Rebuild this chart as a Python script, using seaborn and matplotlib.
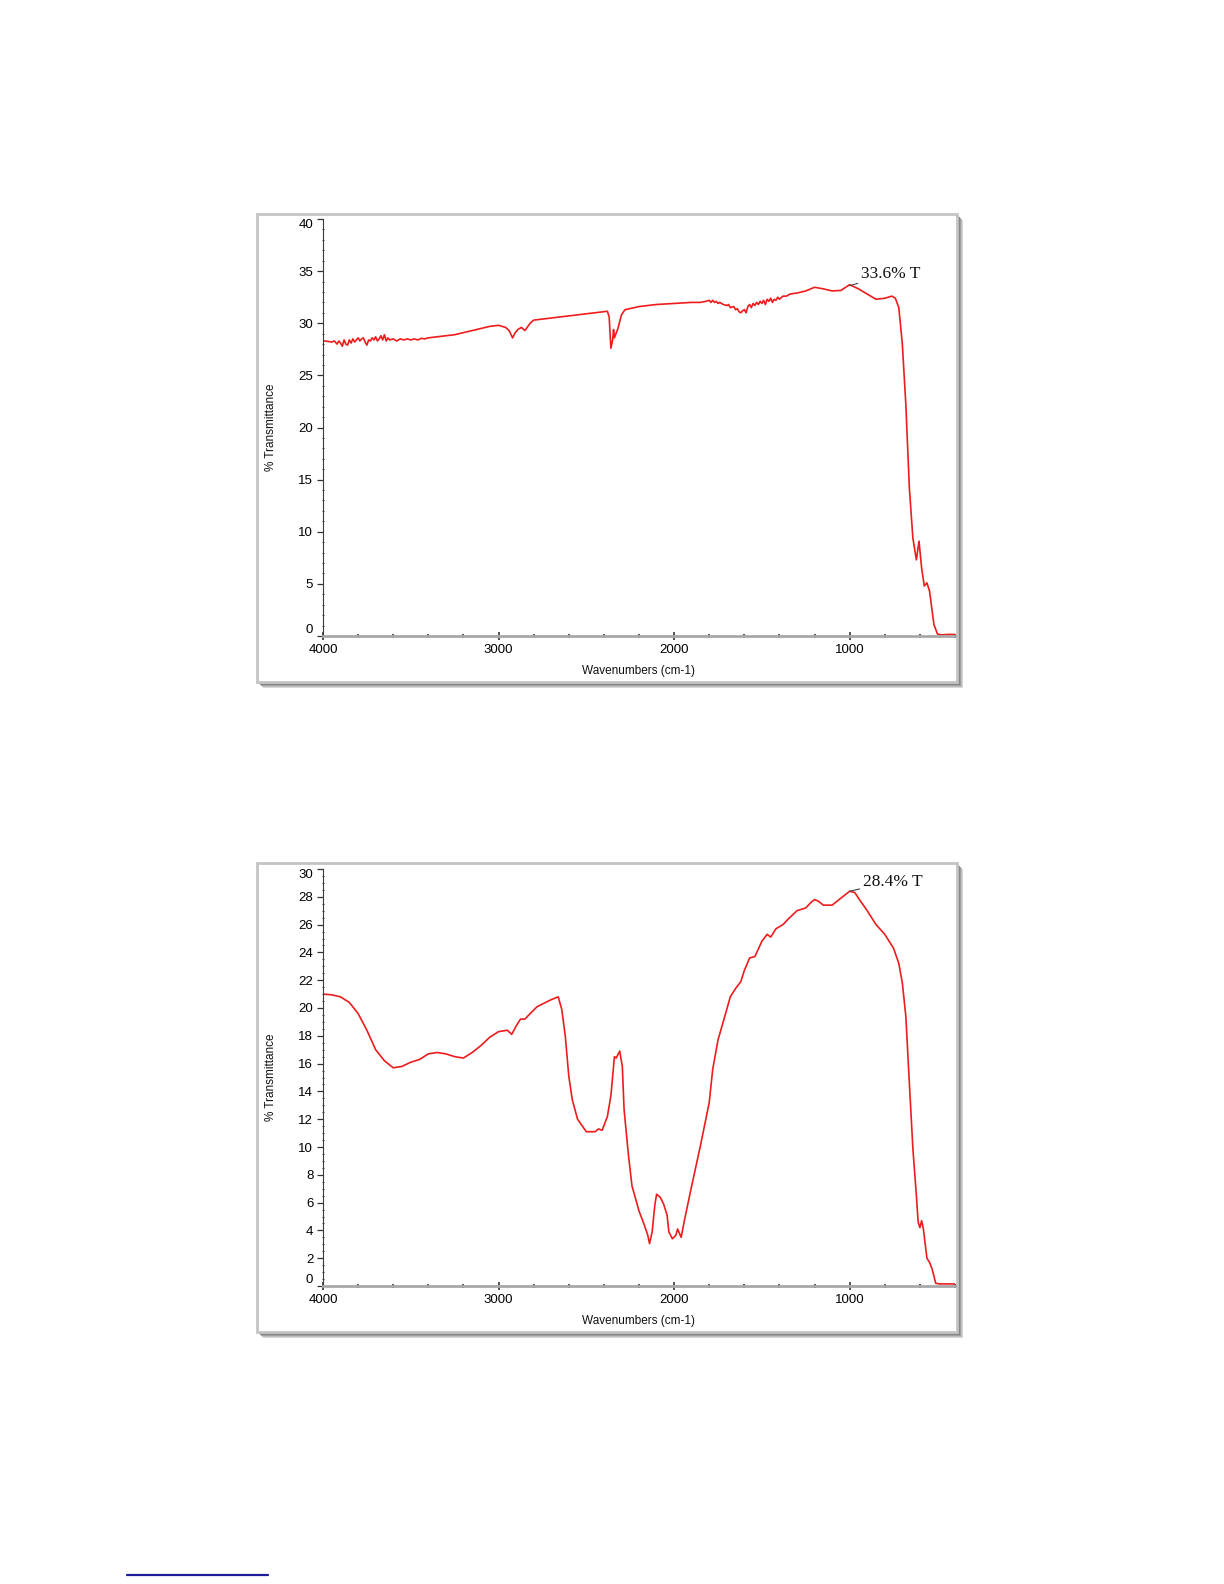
import numpy as np
import pandas as pd
import matplotlib
matplotlib.use("Agg")
import matplotlib.pyplot as plt
from matplotlib.patches import Rectangle
from matplotlib.lines import Line2D
from matplotlib.ticker import MultipleLocator
import seaborn as sns

# ---------------- data ----------------
wn_top = [4000, 3990, 3970, 3950, 3935, 3920, 3910, 3900, 3890, 3880, 3870, 3860, 3850, 3840,
          3830, 3820, 3810, 3800, 3790, 3780, 3770, 3760, 3750, 3740, 3730, 3720, 3710, 3700,
          3690, 3680, 3670, 3660, 3650, 3640, 3630, 3620, 3600, 3580, 3560, 3540, 3520, 3500,
          3480, 3460, 3440, 3420, 3400, 3350, 3300, 3250,
          3200, 3150, 3100, 3050, 3000, 2960, 2940, 2920, 2905, 2890, 2870, 2850, 2820, 2800,
          2700, 2600, 2500, 2400, 2380, 2370, 2360, 2350, 2345, 2340, 2320, 2300, 2280, 2200,
          2100, 2000, 1900, 1850, 1820, 1800, 1790, 1780, 1770, 1760, 1750, 1740, 1720, 1700,
          1690, 1680, 1660, 1650, 1640, 1630, 1620, 1610, 1600, 1590, 1580, 1570, 1560, 1550,
          1540, 1530, 1520, 1510, 1500, 1490, 1480, 1470, 1460, 1450, 1440, 1430, 1420, 1410,
          1400, 1380, 1360, 1340, 1300, 1250, 1200, 1150, 1100, 1050, 1000,
          950, 900, 850, 800, 760, 740, 720, 700, 680, 660, 640, 620, 605, 590, 575, 560,
          545, 520, 500, 480, 440, 400]
t_top = [28.3, 28.3, 28.25, 28.2, 28.3, 28.0, 28.3, 28.1, 27.8, 28.4, 28.0, 27.9, 28.4, 28.1,
         28.5, 28.2, 28.4, 28.6, 28.3, 28.5, 28.6, 28.2, 27.9, 28.4, 28.3, 28.6, 28.4, 28.7,
         28.3, 28.5, 28.8, 28.4, 28.9, 28.3, 28.6, 28.4, 28.5, 28.3, 28.5, 28.4, 28.5, 28.4,
         28.5, 28.4, 28.55, 28.5, 28.6, 28.7, 28.8, 28.9,
         29.1, 29.3, 29.5, 29.7, 29.8, 29.6, 29.3, 28.6, 29.1, 29.4, 29.6, 29.3, 30.0, 30.3,
         30.5, 30.7, 30.9, 31.1, 31.15, 30.6, 27.6, 28.4, 29.4, 28.6, 29.5, 30.8, 31.3, 31.6,
         31.8, 31.9, 32.0, 32.0, 32.1, 32.2, 32.0, 32.2, 32.0, 32.1, 31.9, 32.0, 31.8, 31.7,
         31.8, 31.5, 31.6, 31.3, 31.4, 31.1, 31.0, 31.2, 31.3, 31.0, 31.6, 31.8, 31.5, 31.9,
         31.7, 32.0, 31.8, 32.1, 31.9, 32.2, 31.8, 32.3, 32.1, 32.4, 32.0, 32.3, 32.2, 32.5,
         32.3, 32.6, 32.6, 32.8, 32.9, 33.1, 33.45, 33.3, 33.1, 33.15, 33.7,
         33.3, 32.8, 32.3, 32.4, 32.6, 32.4, 31.5, 28.0, 22.2, 14.2, 9.4, 7.3, 9.1, 6.5, 4.8, 5.1,
         4.3, 1.1, 0.2, 0.1, 0.15, 0.15]

wn_bot = [4000, 3950, 3900, 3850, 3800, 3750, 3700, 3650, 3600, 3550, 3500, 3450, 3400, 3350,
          3300, 3250, 3200, 3150, 3100, 3050, 3000, 2950, 2925, 2900, 2875, 2850, 2820, 2780,
          2700, 2660, 2640, 2620, 2600, 2580, 2550, 2500, 2450, 2430, 2410, 2380, 2360, 2350,
          2340, 2330, 2310, 2295, 2285, 2260, 2240, 2200, 2170, 2150, 2140, 2125, 2110, 2100,
          2080, 2060, 2040, 2030, 2010, 1990, 1980, 1960, 1940, 1900, 1850, 1800, 1780, 1750,
          1700, 1680, 1650, 1620, 1600, 1570, 1540, 1500, 1470, 1450, 1420, 1380, 1350, 1300,
          1250, 1220, 1200, 1180, 1150, 1100, 1050, 1000, 970, 950, 900, 850, 800, 750, 720,
          700, 680, 660, 640, 620, 610, 600, 590, 580, 560, 545, 530, 510, 490, 400]
t_bot = [21.0, 20.95, 20.8, 20.4, 19.6, 18.4, 17.0, 16.2, 15.7, 15.8, 16.1, 16.3, 16.7, 16.8,
         16.7, 16.5, 16.4, 16.8, 17.3, 17.9, 18.3, 18.4, 18.1, 18.7, 19.2, 19.2, 19.6, 20.1,
         20.6, 20.8, 19.9, 18.0, 15.1, 13.4, 12.0, 11.1, 11.1, 11.3, 11.2, 12.2, 13.7, 15.1,
         16.5, 16.4, 16.9, 15.8, 12.7, 9.4, 7.2, 5.4, 4.4, 3.65, 3.05, 3.9, 5.8, 6.6,
         6.4, 5.9, 5.1, 3.9, 3.4, 3.65, 4.1, 3.5, 4.8, 7.2, 10.1, 13.2, 15.6, 17.7,
         19.9, 20.8, 21.4, 21.9, 22.7, 23.6, 23.7, 24.8, 25.3, 25.1, 25.7, 26.0, 26.4, 27.0,
         27.2, 27.6, 27.8, 27.7, 27.4, 27.4, 27.9, 28.4, 28.3, 27.9, 27.0, 26.0, 25.3, 24.3, 23.2,
         21.8, 19.4, 14.6, 9.9, 6.5, 4.6, 4.2, 4.7, 4.1, 2.0, 1.7, 1.2, 0.2, 0.15, 0.15]

x_label = "Wavenumbers (cm-1)"
y_label = "% Transmittance"
annot_top = "33.6% T"
annot_bot = "28.4% T"

# ---------------- figure ----------------
sns.set_theme(style="white")
plt.rcParams['font.family'] = ['Liberation Sans', 'DejaVu Sans']

W, H = 1224, 1584
fig = plt.figure(figsize=(W / 100, H / 100), dpi=100)


def fx(px):
    return px / W


def fy(py):
    return 1 - py / H


def frame(left, top, right, bottom):
    w = (right - left) / W
    h = (bottom - top) / H
    # soft drop shadow
    for off, col in [(6, '#d8d8d8'), (5, '#bdbdbd'), (4, '#a0a0a0'), (3, '#888888'), (2, '#777777')]:
        fig.patches.append(Rectangle((fx(left + off), fy(bottom + off)), w, h,
                                     transform=fig.transFigure, facecolor=col, edgecolor='none',
                                     zorder=-3))
    fig.patches.append(Rectangle((fx(left), fy(bottom)), w, h,
                                 transform=fig.transFigure, facecolor='white', edgecolor='#c4c4c4',
                                 linewidth=2, zorder=-1))


frame(257, 214, 957, 682)
frame(257, 863, 957, 1332)

ax_left, ax_right = 323, 955
specs = [
    dict(top=219, bottom=636, wn=wn_top, t=t_top, ymax=40, major=5, minor=1,
         annot=annot_top, peak=(1000, 33.6), txt=(935, 34.75)),
    dict(top=869, bottom=1286, wn=wn_bot, t=t_bot, ymax=30, major=2, minor=0.5,
         annot=annot_bot, peak=(1000, 28.4), txt=(924, 29.1)),
]

for s in specs:
    ax = fig.add_axes([fx(ax_left), fy(s['bottom']), fx(ax_right - ax_left),
                       (s['bottom'] - s['top']) / H])
    ax.set_facecolor('none')
    df = pd.DataFrame({'wn': s['wn'], 't': s['t']})
    sns.lineplot(data=df, x='wn', y='t', ax=ax, color='#ee1c1c', linewidth=1.2,
                 estimator=None, sort=False)
    ax.set_xlim(4000, 400)
    ax.set_ylim(0, s['ymax'])
    ax.xaxis.set_minor_locator(MultipleLocator(200))
    ax.set_xticks([4000, 3000, 2000, 1000])
    ax.set_xticklabels(['4000', '3000', '2000', '1000'])
    yt = np.arange(0, s['ymax'] + 0.001, s['major'])
    ax.set_yticks(yt)
    ax.set_yticklabels([f"{v:g}" for v in yt])
    ax.yaxis.set_minor_locator(MultipleLocator(s['minor']))

    for side in ['top', 'right']:
        ax.spines[side].set_visible(False)
    ax.spines['left'].set_color('#3a3a3a')
    ax.spines['left'].set_linewidth(0.8)
    ax.spines['bottom'].set_color('#a8a8a8')
    ax.spines['bottom'].set_linewidth(2.0)

    ax.tick_params(axis='x', which='major', direction='inout', length=6, width=1.2,
                   color='#333333', labelsize=9.5, pad=3, labelcolor='black')
    ax.tick_params(axis='x', which='minor', direction='inout', length=3.5, width=1.2,
                   color='#333333')
    ax.tick_params(axis='y', which='major', direction='out', length=4, width=0.9,
                   color='#333333', labelsize=9.5, pad=3, labelcolor='black', left=True)
    ax.tick_params(axis='y', which='minor', direction='inout', length=1.6, width=0.8,
                   color='#444444', left=True)
    ax.tick_params(axis='x', which='both', bottom=True)

    ax.set_xlabel(x_label, fontsize=8.5, color='#111111')
    ax.set_ylabel(y_label, fontsize=8.5, color='#111111')
    ax.xaxis.set_label_coords(0.5, -35 / (s['bottom'] - s['top']))
    ax.xaxis.label.set_va('center')
    ax.yaxis.set_label_coords(-52 / (ax_right - ax_left), 0.5)
    ax.yaxis.label.set_va('center')

    labels = ax.get_yticklabels()
    labels[0].set_va('bottom')
    labels[-1].set_va('top')

    ax.annotate(s['annot'], xy=s['peak'], xytext=s['txt'], textcoords='data',
                ha='left', va='center', fontsize=12.5,
                family=['Liberation Serif', 'DejaVu Serif'], color='#111111',
                arrowprops=dict(arrowstyle='-', color='#444444', lw=0.8,
                                shrinkA=0, shrinkB=0))

# blue rule near bottom of page
fig.lines.append(Line2D([fx(127), fx(268)], [fy(1575), fy(1575)], transform=fig.transFigure,
                        color='#1c1c96', linewidth=1.6))

fig.savefig('out.png', dpi=100, facecolor='white')
